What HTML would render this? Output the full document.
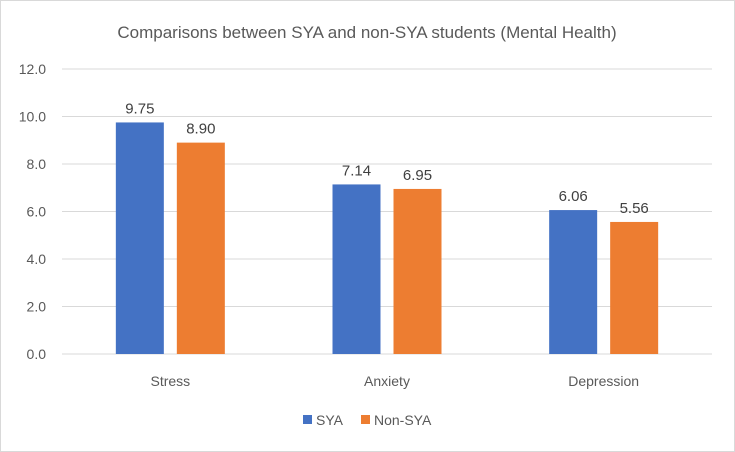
<!DOCTYPE html>
<html><head><meta charset="utf-8"><style>
body{margin:0;background:#fff}
svg{display:block;font-family:"Liberation Sans",sans-serif}
</style></head><body>
<svg id="c" width="735" height="452">
<rect x="0.5" y="0.5" width="734" height="451" fill="#fff" stroke="#d9d9d9"/>
<text x="367" y="38" text-anchor="middle" font-size="17" fill="#595959">Comparisons between SYA and non-SYA students (Mental Health)</text>
<g id="grid"></g><g id="bars"></g>
<g>
<rect x="303" y="415" width="9" height="9" fill="#4472c4"/>
<text x="316" y="425" font-size="14" fill="#595959">SYA</text>
<rect x="361" y="415" width="9" height="9" fill="#ed7d31"/>
<text x="374" y="425" font-size="14" fill="#595959">Non-SYA</text>
</g>
</svg>
<script>
const categories=["Stress","Anxiety","Depression"];
const syaValues=[9.75,7.14,6.06];
const nonSyaValues=[8.90,6.95,5.56];
const tickLabels=["0.0","2.0","4.0","6.0","8.0","10.0","12.0"];
const ns="http://www.w3.org/2000/svg";
const x0=62,x1=712,yBase=354,yTop=69,yMax=12;
const y=v=>yBase-(v/yMax)*(yBase-yTop);
const bw=(x1-x0)/categories.length;
const grid=document.getElementById('grid'),bars=document.getElementById('bars');
function mk(t,a,p){const e=document.createElementNS(ns,t);for(const k in a)e.setAttribute(k,a[k]);p.appendChild(e);return e;}
tickLabels.forEach(t=>{const v=parseFloat(t);
 const l=mk('line',{x1:x0,x2:x1,y1:y(v),y2:y(v),stroke:'#d9d9d9'},grid);
 
 
 const tx=mk('text',{x:46,y:y(v)+5,'text-anchor':'end','font-size':14,fill:'#595959'},grid);tx.textContent=t;
 
 
});
categories.forEach((c,i)=>{const cx=x0+bw*(i+0.5);
 [[syaValues[i],'#4472c4',cx-54.5,'sya'],[nonSyaValues[i],'#ed7d31',cx+6.5,'non-sya']].forEach(([v,col,bx,s])=>{
  const r=mk('rect',{x:bx,y:y(v),width:48,height:yBase-y(v),fill:col},bars);
  
  
  const t=mk('text',{x:bx+24,y:y(v)-9,'text-anchor':'middle','font-size':15,fill:'#404040'},bars);t.textContent=v.toFixed(2);
  
  
 });
 const t=mk('text',{x:cx,y:386,'text-anchor':'middle','font-size':14,fill:'#595959'},bars);t.textContent=c;
 
 
});
</script>
</body></html>
